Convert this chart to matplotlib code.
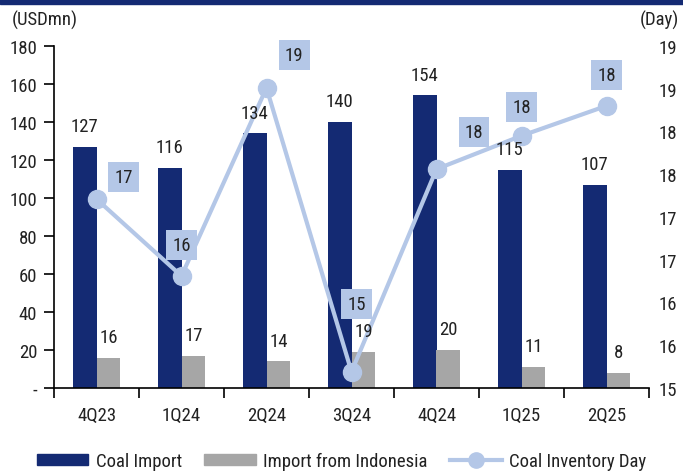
import numpy as np
import matplotlib
matplotlib.use("Agg")
import matplotlib.pyplot as plt
from matplotlib import font_manager
from matplotlib.ticker import FixedLocator, FuncFormatter
from matplotlib.lines import Line2D
from matplotlib.patches import Patch, Rectangle

# data
quarters = ["4Q23", "1Q24", "2Q24", "3Q24", "4Q24", "1Q25", "2Q25"]
coal_import = [127, 116, 134, 140, 154, 115, 107]
import_indo = [16, 17, 14, 19, 20, 11, 8]
inventory_day = [17.21, 16.31, 18.51, 15.19, 17.56, 17.95, 18.30]
inventory_lbl = ["17", "16", "19", "15", "18", "18", "18"]

# label box offsets (points) relative to each marker
box_off = [(19.5, 16), (0, 22), (20, 24), (3.5, 49), (27, 27), (0, 21), (0, 22)]

names = sorted({f.name for f in font_manager.fontManager.ttflist})
fam = "DejaVu Sans"
for cand in ["Roboto Condensed", "Liberation Sans Narrow", "Open Sans Condensed", "Roboto"]:
    if cand in names:
        fam = cand
        break
plt.rcParams['font.family'] = [fam, 'DejaVu Sans']

navy = "#142a73"
grey = "#a6a6a6"
lblue = "#b4c7e7"
tc = "#222222"
fs = 13.5

fig = plt.figure(figsize=(6.83, 4.77), dpi=100)
ax = fig.add_axes([54/683, 1-389/477, (649-54)/683, (389-47)/477])
fig.patches.append(Rectangle((0, 1-5/477), 1, 5/477, transform=fig.transFigure,
                             color=navy, zorder=0))

x = np.arange(len(quarters))
w = 0.28
ax.bar(x - w/2, coal_import, w, color=navy, zorder=2)
ax.bar(x + w/2, import_indo, w, color=grey, zorder=2)

ax.set_xlim(-0.5, len(quarters) - 0.5)
ax.set_ylim(0, 180)
ax.set_yticks(np.arange(0, 181, 20))
ax.yaxis.set_major_formatter(FuncFormatter(lambda v, p: "-" if v == 0 else f"{v:.0f}"))
ax.set_xticks(x)
ax.set_xticklabels(quarters)
ax.xaxis.set_minor_locator(FixedLocator(np.arange(-0.5, len(quarters), 1)))
ax.tick_params(axis="x", which="major", length=0, pad=13, labelsize=fs, labelcolor=tc)
ax.tick_params(axis="x", which="minor", length=7, width=1.2, direction="out")
ax.tick_params(axis="y", length=7, width=1.2, labelsize=fs, pad=5, labelcolor=tc)
for s in ["top", "right"]:
    ax.spines[s].set_visible(False)
ax.spines["left"].set_linewidth(1.2)
ax.spines["bottom"].set_linewidth(1.2)

ax2 = ax.twinx()
ax2.set_ylim(15, 19)
ax2.set_yticks(np.arange(15, 19.01, 0.5))
ax2.yaxis.set_major_formatter(FuncFormatter(lambda v, p: f"{int(np.floor(v + 0.5))}"))
ax2.tick_params(axis="y", length=0, labelsize=fs, pad=7, labelcolor=tc)
for s in ["top", "right", "left", "bottom"]:
    ax2.spines[s].set_visible(False)

ax2.plot(x, inventory_day, color=lblue, lw=3, marker="o", markersize=13, zorder=3,
         clip_on=False)
for xi, v, t, off in zip(x, inventory_day, inventory_lbl, box_off):
    ax2.annotate(t, (xi, v), xytext=off, textcoords="offset points", ha="center",
                 va="center", fontsize=fs, color=tc, zorder=4,
                 bbox=dict(boxstyle="square,pad=0.32", fc=lblue, ec="none"))

# bar value labels (drawn on ax2 so they sit above the line boxes)
for xi, v in zip(x, coal_import):
    ax2.annotate(str(v), (xi - w/2, v), xycoords=ax.transData, xytext=(0, 8.5),
                 textcoords="offset points", ha="center", va="bottom", fontsize=fs,
                 color=tc, zorder=5)
for xi, v in zip(x, import_indo):
    ax2.annotate(str(v), (xi + w/2, v), xycoords=ax.transData, xytext=(0, 8.5),
                 textcoords="offset points", ha="center", va="bottom", fontsize=fs,
                 color=tc, zorder=5)

fig.text(12/683, 1-20/477, "(USDmn)", fontsize=fs, va="center", ha="left", color=tc)
fig.text(679/683, 1-20/477, "(Day)", fontsize=fs, va="center", ha="right", color=tc)

handles = [Patch(color=navy), Patch(color=grey),
           Line2D([0], [0], color=lblue, lw=3, marker="o", markersize=11)]
fig.legend(handles, ["Coal Import", "Import from Indonesia", "Coal Inventory Day"],
           loc="center", bbox_to_anchor=(0.5, 1-462/477), ncol=3, frameon=False,
           fontsize=fs, handlelength=2.75, handleheight=0.55, columnspacing=1.2,
           handletextpad=0.4, labelcolor=tc)

fig.savefig("out.png", dpi=100)
